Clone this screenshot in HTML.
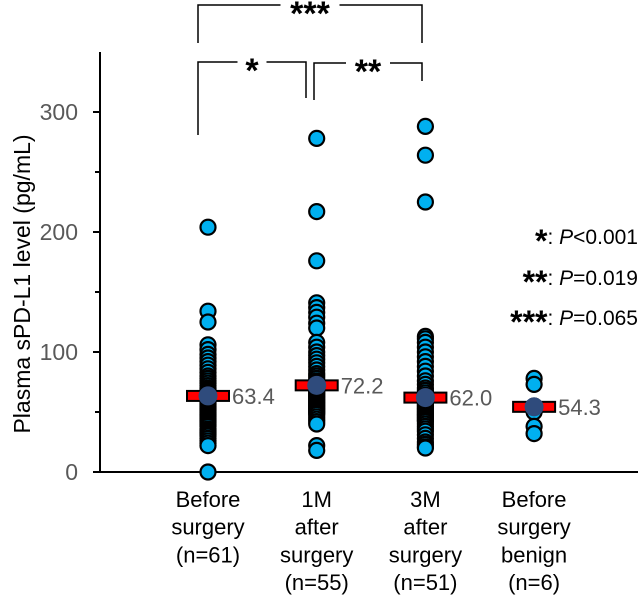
<!DOCTYPE html>
<html><head><meta charset="utf-8"><style>
body{margin:0;background:#fff;}
svg{display:block;font-family:"Liberation Sans",Arial,sans-serif;}
</style></head><body>
<svg id="chart" width="640" height="595" viewBox="0 0 640 595"></svg>
<script>
const categories = ["Before surgery (n=61)","1M after surgery (n=55)","3M after surgery (n=51)","Before surgery benign (n=6)"];
const labelLines = [["Before","surgery","(n=61)"],["1M","after","surgery","(n=55)"],["3M","after","surgery","(n=51)"],["Before","surgery","benign","(n=6)"]];
const beforeValues = [204,134,125,106,102,98,95,92,89,86,83,80,78,76,74,72,70,69,68,67,66,65,64,63,62,61,60,59,58,57,56,55,54,53,52,51,50,49,48,47,46,45,44,43,42,41,40,39,38,36,35,34,33,32,31,30,28,26,24,22,0];
const m1Values = [278,217,176,141,137,133,129,124,120,108,104,100,97,94,91,88,85,82,80,78,76,75,74,73,72,71,70,69,68,67,66,65,64,63,62,61,60,59,58,57,56,55,54,53,52,51,50,49,48,46,44,42,40,22,18];
const m3Values = [288,264,225,113,111,108,104,100,96,92,88,84,80,76,73,70,68,66,64,63,62,61,60,59,58,57,56,55,54,53,52,51,50,49,48,47,46,45,44,43,42,40,38,36,34,31,28,25,23,21,20];
const benignValues = [78,73,55,50,38,32];
const seriesValues = [beforeValues,m1Values,m3Values,benignValues];
const meanValues = [63.4,72.2,62.0,54.3];
const meanLabels = ["63.4","72.2","62.0","54.3"];
const yTicks = [0,100,200,300];
const yMinorTicks = [50,150,250];

const NS="http://www.w3.org/2000/svg";
const svg=document.getElementById('chart');
function yS(v){return 472 - v*1.2;}
function xS(i){return 208 + i*108.7;}
function mk(tag,attrs,parent){const e=document.createElementNS(NS,tag);for(const k in attrs)e.setAttribute(k,attrs[k]);(parent||svg).appendChild(e);return e;}

let ax=mk('line',{x1:100,y1:yS(0),x2:638,y2:yS(0),stroke:'#000','stroke-width':2});


let ay=mk('line',{x1:100,y1:yS(0)+1,x2:100,y2:yS(350),stroke:'#000','stroke-width':2});


yTicks.forEach(v=>{
  let t=mk('line',{x1:93,y1:yS(v),x2:100,y2:yS(v),stroke:'#000','stroke-width':2});
  
  
  let l=mk('text',{x:78,y:yS(v)+8,'text-anchor':'end','font-size':23,fill:'#595959'});
  l.textContent=v;
  
  
});
yMinorTicks.forEach(v=>{
  let t=mk('line',{x1:95,y1:yS(v),x2:100,y2:yS(v),stroke:'#000','stroke-width':2});
  
  
});
let yt=mk('text',{x:0,y:0,transform:'translate(30,284) rotate(-90)','text-anchor':'middle','font-size':23,fill:'#000'});
yt.textContent='Plasma sPD-L1 level (pg/mL)';



labelLines.forEach((lines,i)=>{
  lines.forEach((s,j)=>{
    let t=mk('text',{x:xS(i),y:507+j*27.7,'text-anchor':'middle','font-size':22,fill:'#000'});
    t.textContent=s;
    
    
  });
});

seriesValues.forEach((vals,i)=>{
  const g=mk('g',{});
  
  
  vals.forEach(v=>{
    let c=mk('circle',{cx:xS(i),cy:yS(v),r:7.5,fill:'#00B0F0',stroke:'#000','stroke-width':2.2},g);
    
    
  });
  let r=mk('rect',{x:xS(i)-21,y:yS(meanValues[i])-5,width:42,height:10,fill:'#FF0000',stroke:'#000','stroke-width':2});
  
  
  let c=mk('circle',{cx:xS(i),cy:yS(meanValues[i]),r:9.5,fill:'#2F4B7C'});
  
  
  let t=mk('text',{x:xS(i)+24,y:yS(meanValues[i])+8,'font-size':22,fill:'#595959'});
  t.textContent=meanLabels[i];
  
  
});

function bracket(x1,x2,top,l,r,stars,sx,name){
  const g=mk('g',{});
  
  
  const w=stars.length*15+14;
  mk('polyline',{points:`${x1},${l} ${x1},${top} ${sx-w/2},${top}`,fill:'none',stroke:'#000','stroke-width':1.5},g);
  mk('polyline',{points:`${sx+w/2},${top} ${x2},${top} ${x2},${r}`,fill:'none',stroke:'#000','stroke-width':1.5},g);
  const t=mk('text',{x:sx,y:top+20,'text-anchor':'middle','font-size':34,'font-weight':'bold',fill:'#000'},g);
  t.textContent=stars;
}
bracket(198,422,5,43,43,'***',310,'bracket-before-vs-3m');
bracket(198,306,62,135,98,'*',252,'bracket-before-vs-1m');
bracket(314,422,63,100,81,'**',368,'bracket-1m-vs-3m');

[["*","<0.001",244],["**","=0.019",285],["***","=0.065",325]].forEach((a,i)=>{
  const t=mk('text',{x:638,y:a[2],'text-anchor':'end','font-size':21,fill:'#000'});
  t.innerHTML='<tspan font-size="32" font-weight="bold" dy="8">'+a[0]+'</tspan><tspan dy="-8">: </tspan><tspan font-style="italic">P</tspan><tspan>'+a[1]+'</tspan>';
  
  
});
</script>
</body></html>
